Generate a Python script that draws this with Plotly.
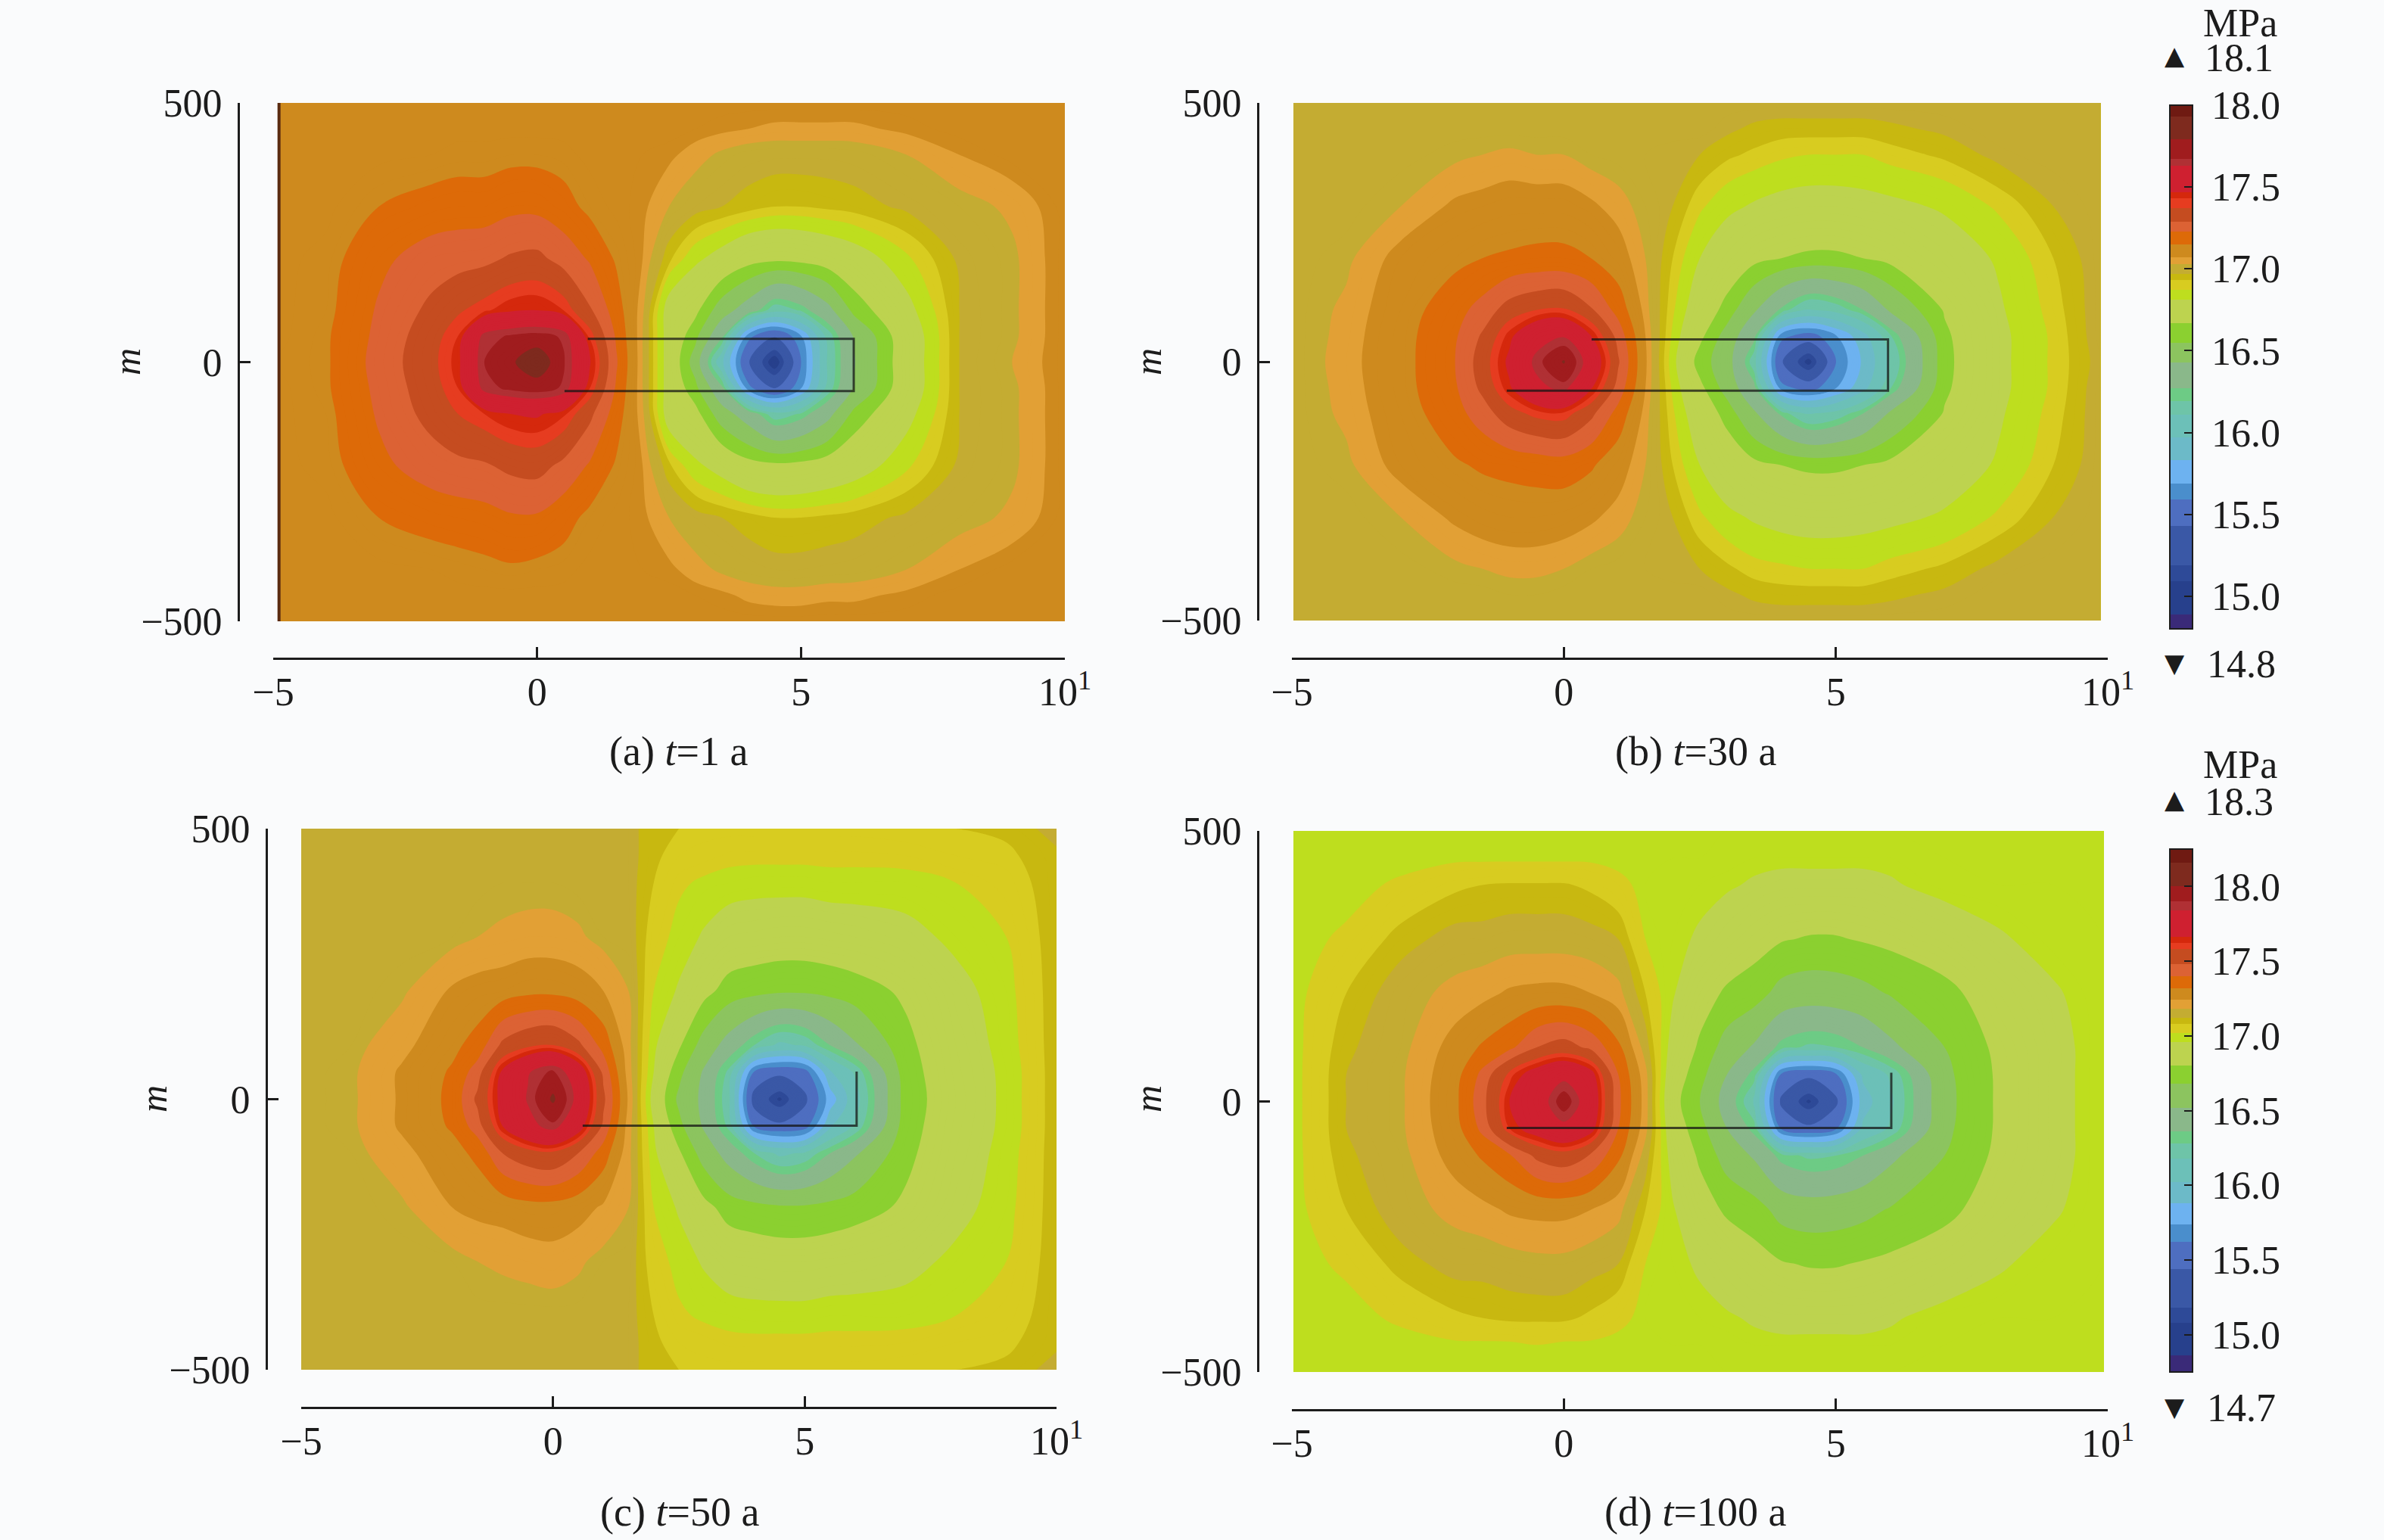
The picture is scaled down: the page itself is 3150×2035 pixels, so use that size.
import plotly.graph_objects as go

W, H = 3150, 2035
FONT = "Liberation Serif"
INK = "#1c1c1c"
BG = "#fafbfc"

# shared row positions (m), top to bottom
Y = [500, 450, 400, 300, 200, 100, 50, 0, -50, -100, -200, -300, -400, -450, -500]
# column positions per panel (km-like axis units)
X_A = [-4.91, -4, -3, -2, -1.5, -1, -0.5, 0, 0.5, 1, 1.5, 2, 2.5, 3, 3.5, 4, 4.5, 5, 5.5, 6, 7, 8, 9, 10]
X_B = [-4.97, -4, -3, -2, -1.5, -1, -0.5, 0, 0.5, 1, 1.5, 2, 2.5, 3, 3.5, 4, 4.5, 5, 5.5, 6, 7, 8, 9, 9.87]
X_C = [-5, -4, -3, -2, -1.5, -1, -0.5, 0, 0.5, 1, 1.5, 2, 2.5, 3, 3.5, 4, 4.5, 5, 5.5, 6, 7, 8, 9, 10]
X_D = [-4.97, -4, -3, -2, -1.5, -1, -0.5, 0, 0.5, 1, 1.5, 2, 2.5, 3, 3.5, 4, 4.5, 5, 5.5, 6, 7, 8, 9, 9.93]

Z_A = [
 [17.1,17.1,17.1,17.1,17.1,17.1,17.1,17.1,17.1,17.1,17.1,17.1,17.1,17.1,17.1,17.1,17.1,17.1,17.1,17.1,17.1,17.1,17.1,17.1],
 [17.1,17.1,17.1,17.1,17.1,17.1,17.1,17.1,17.1,17.1,17.1,17.1,17.1,17.09,17.08,17.07,17.06,17.06,17.06,17.06,17.08,17.1,17.1,17.1],
 [17.1,17.1,17.1,17.11,17.12,17.12,17.13,17.13,17.12,17.1,17.09,17.09,17.08,17.05,17.02,17.0,16.995,16.995,16.995,17.0,17.03,17.07,17.1,17.1],
 [17.1,17.1,17.15,17.18,17.19,17.19,17.21,17.21,17.18,17.13,17.1,17.08,17.03,16.99,16.97,16.95,16.93,16.93,16.94,16.95,16.98,17.01,17.04,17.1],
 [17.1,17.12,17.21,17.27,17.28,17.29,17.32,17.33,17.28,17.22,17.14,17.07,16.94,16.85,16.79,16.72,16.7,16.71,16.74,16.78,16.88,16.98,17.02,17.1],
 [17.1,17.13,17.24,17.33,17.38,17.42,17.46,17.47,17.43,17.32,17.19,17.04,16.78,16.7,16.5,16.35,16.15,16.22,16.38,16.6,16.8,16.97,17.02,17.1],
 [17.1,17.14,17.25,17.36,17.43,17.66,17.7,17.72,17.68,17.42,17.22,17.03,16.78,16.6,16.3,15.65,15.45,15.7,16.15,16.44,16.76,16.97,17.02,17.1],
 [17.11,17.14,17.26,17.37,17.45,17.69,17.77,17.88,17.7,17.48,17.24,17.03,16.78,16.51,16.0,15.45,15.0,15.6,16.12,16.42,16.76,16.97,17.03,17.1],
 [17.1,17.14,17.25,17.36,17.43,17.66,17.71,17.73,17.68,17.43,17.22,17.03,16.78,16.6,16.3,15.65,15.42,15.7,16.15,16.44,16.76,16.97,17.02,17.1],
 [17.1,17.13,17.24,17.34,17.39,17.43,17.47,17.48,17.44,17.33,17.19,17.04,16.78,16.71,16.5,16.35,16.15,16.22,16.38,16.6,16.8,16.97,17.02,17.1],
 [17.1,17.12,17.21,17.27,17.29,17.3,17.33,17.34,17.29,17.22,17.14,17.07,16.94,16.85,16.79,16.72,16.7,16.71,16.74,16.78,16.88,16.98,17.02,17.1],
 [17.1,17.1,17.15,17.18,17.19,17.2,17.22,17.22,17.18,17.13,17.1,17.08,17.03,16.99,16.97,16.95,16.93,16.93,16.94,16.95,16.98,17.01,17.04,17.1],
 [17.1,17.1,17.1,17.11,17.12,17.13,17.14,17.13,17.12,17.1,17.09,17.09,17.08,17.05,17.02,17.0,16.99,16.99,16.995,17.0,17.03,17.07,17.1,17.1],
 [17.1,17.1,17.1,17.1,17.1,17.1,17.1,17.1,17.1,17.1,17.1,17.1,17.1,17.09,17.08,17.06,17.05,17.05,17.06,17.06,17.08,17.1,17.1,17.1],
 [17.1,17.1,17.1,17.1,17.1,17.1,17.1,17.1,17.1,17.1,17.1,17.1,17.1,17.1,17.1,17.1,17.1,17.1,17.1,17.1,17.1,17.1,17.1,17.1],
]

Z_B = [
 [17.0,17.0,17.0,17.0,17.0,17.0,17.0,17.0,17.0,17.0,17.0,17.0,17.0,17.0,17.0,17.0,17.0,17.0,17.0,17.0,17.0,17.0,17.0,17.0],
 [17.0,17.0,17.0,17.0,17.0,17.0,17.0,17.0,17.0,17.0,17.0,17.0,17.0,16.98,16.96,16.95,16.95,16.95,16.95,16.96,16.98,17.0,17.0,17.0],
 [17.0,17.0,17.0,17.02,17.03,17.04,17.03,17.03,17.01,17.0,16.99,16.98,16.97,16.94,16.92,16.9,16.89,16.89,16.89,16.91,16.94,16.985,17.0,17.0],
 [17.0,17.0,17.03,17.08,17.09,17.1,17.1,17.1,17.08,17.05,17.01,16.97,16.9,16.85,16.82,16.8,16.79,16.79,16.8,16.81,16.84,16.9,16.97,17.0],
 [17.0,17.02,17.09,17.13,17.15,17.16,17.17,17.17,17.15,17.1,17.03,16.93,16.83,16.76,16.7,16.67,16.65,16.65,16.67,16.7,16.78,16.84,16.93,17.0],
 [17.0,17.04,17.11,17.2,17.26,17.35,17.39,17.4,17.32,17.2,17.05,16.9,16.76,16.63,16.45,16.25,16.1,16.15,16.27,16.45,16.68,16.82,16.91,17.0],
 [17.0,17.045,17.12,17.22,17.32,17.45,17.58,17.62,17.47,17.28,17.07,16.88,16.7,16.52,16.3,15.65,15.55,15.7,15.92,16.2,16.65,16.81,16.9,17.0],
 [17.0,17.05,17.12,17.23,17.35,17.49,17.66,17.8,17.56,17.32,17.08,16.86,16.62,16.5,16.15,15.45,15.05,15.6,15.85,16.12,16.64,16.81,16.9,16.99],
 [17.0,17.045,17.12,17.22,17.33,17.46,17.6,17.66,17.48,17.28,17.07,16.88,16.7,16.52,16.3,15.65,15.55,15.7,15.92,16.2,16.65,16.81,16.9,17.0],
 [17.0,17.04,17.11,17.2,17.27,17.36,17.41,17.42,17.33,17.2,17.05,16.9,16.76,16.63,16.45,16.25,16.1,16.15,16.27,16.45,16.68,16.82,16.91,17.0],
 [17.0,17.02,17.09,17.14,17.16,17.17,17.18,17.19,17.16,17.1,17.03,16.93,16.83,16.76,16.7,16.67,16.65,16.65,16.67,16.7,16.78,16.84,16.93,17.0],
 [17.0,17.0,17.03,17.08,17.1,17.11,17.11,17.1,17.08,17.05,17.01,16.97,16.9,16.85,16.82,16.8,16.79,16.79,16.8,16.81,16.84,16.9,16.97,17.0],
 [17.0,17.0,17.0,17.02,17.03,17.04,17.04,17.03,17.01,17.0,16.99,16.98,16.97,16.94,16.91,16.9,16.89,16.89,16.89,16.91,16.94,16.985,17.0,17.0],
 [17.0,17.0,17.0,17.0,17.0,17.01,17.01,17.0,17.0,17.0,17.0,17.0,17.0,16.98,16.96,16.95,16.95,16.95,16.95,16.96,16.98,17.0,17.0,17.0],
 [17.0,17.0,17.0,17.0,17.0,17.0,17.0,17.0,17.0,17.0,17.0,17.0,17.0,17.0,17.0,17.0,17.0,17.0,17.0,17.0,17.0,17.0,17.0,17.0],
]

Z_C = [
 [17.15,17.15,17.15,17.15,17.15,17.15,17.15,17.15,17.15,17.15,17.14,17.09,17.08,17.07,17.07,17.07,17.07,17.07,17.07,17.07,17.08,17.08,17.09,17.14],
 [17.15,17.15,17.15,17.15,17.15,17.15,17.15,17.15,17.15,17.15,17.14,17.09,17.06,17.05,17.035,17.035,17.035,17.035,17.035,17.035,17.04,17.06,17.07,17.11],
 [17.15,17.15,17.15,17.15,17.15,17.16,17.16,17.16,17.15,17.15,17.14,17.08,17.03,17.01,17.0,16.99,16.99,16.99,17.0,17.0,17.0,17.02,17.05,17.11],
 [17.15,17.15,17.15,17.16,17.18,17.19,17.2,17.2,17.19,17.16,17.15,17.05,17.0,16.95,16.9,16.89,16.88,16.88,16.89,16.9,16.93,16.98,17.02,17.11],
 [17.15,17.15,17.17,17.25,17.27,17.28,17.3,17.3,17.28,17.24,17.18,17.02,16.95,16.84,16.75,16.72,16.7,16.7,16.72,16.75,16.82,16.93,17.0,17.11],
 [17.15,17.16,17.22,17.3,17.35,17.5,17.56,17.58,17.5,17.37,17.2,16.98,16.82,16.62,16.45,16.28,16.15,16.2,16.36,16.5,16.77,16.9,16.99,17.11],
 [17.15,17.17,17.25,17.33,17.44,17.68,17.83,17.92,17.75,17.46,17.21,16.96,16.72,16.5,16.25,15.6,15.5,15.55,16.0,16.2,16.75,16.89,16.98,17.11],
 [17.15,17.17,17.25,17.34,17.5,17.7,17.85,18.02,17.8,17.5,17.23,16.92,16.65,16.48,16.2,15.35,15.05,15.4,15.8,16.12,16.74,16.88,16.98,17.11],
 [17.15,17.17,17.25,17.33,17.44,17.66,17.8,17.88,17.72,17.46,17.21,16.96,16.72,16.5,16.25,15.6,15.5,15.55,16.0,16.2,16.75,16.89,16.98,17.11],
 [17.15,17.16,17.22,17.29,17.34,17.48,17.54,17.56,17.48,17.36,17.2,16.98,16.82,16.62,16.45,16.28,16.15,16.2,16.36,16.5,16.77,16.9,16.99,17.11],
 [17.15,17.15,17.17,17.24,17.26,17.27,17.29,17.29,17.27,17.23,17.18,17.02,16.95,16.84,16.75,16.72,16.7,16.7,16.72,16.75,16.82,16.93,17.0,17.11],
 [17.15,17.15,17.15,17.16,17.18,17.19,17.2,17.21,17.19,17.16,17.15,17.05,17.0,16.95,16.9,16.89,16.88,16.88,16.89,16.9,16.93,16.98,17.02,17.11],
 [17.15,17.15,17.15,17.15,17.15,17.15,17.15,17.15,17.15,17.15,17.14,17.08,17.03,17.01,17.0,16.99,16.99,16.99,17.0,17.0,17.0,17.02,17.05,17.11],
 [17.15,17.15,17.15,17.15,17.15,17.15,17.15,17.15,17.15,17.15,17.14,17.09,17.06,17.05,17.035,17.035,17.035,17.035,17.035,17.035,17.04,17.06,17.07,17.11],
 [17.15,17.15,17.15,17.15,17.15,17.15,17.15,17.15,17.15,17.15,17.14,17.09,17.08,17.07,17.07,17.07,17.07,17.07,17.07,17.07,17.08,17.08,17.09,17.14],
]

Z_D = [
 [17.0,17.0,17.0,17.0,17.0,17.0,17.0,17.0,17.0,17.0,17.0,17.0,17.0,17.0,17.0,17.0,17.0,17.0,17.0,17.0,17.0,17.0,17.0,17.0],
 [17.0,17.0,17.0,17.01,17.01,17.01,17.01,17.01,17.01,17.0,17.0,17.0,17.0,16.99,16.98,16.98,16.98,16.98,16.98,16.98,17.0,17.0,17.0,17.0],
 [17.0,17.0,17.03,17.07,17.08,17.085,17.085,17.085,17.07,17.04,17.0,16.99,16.98,16.97,16.95,16.93,16.93,16.93,16.93,16.95,16.99,17.0,17.0,17.0],
 [17.0,17.03,17.1,17.14,17.14,17.15,17.15,17.15,17.14,17.12,17.02,16.98,16.95,16.9,16.85,16.81,16.79,16.79,16.81,16.83,16.89,16.95,16.99,17.0],
 [17.0,17.08,17.15,17.2,17.22,17.25,17.26,17.26,17.24,17.2,17.08,16.97,16.86,16.78,16.74,16.63,16.6,16.61,16.64,16.69,16.76,16.88,16.95,17.0],
 [17.0,17.11,17.16,17.27,17.33,17.38,17.48,17.52,17.46,17.34,17.15,16.92,16.78,16.62,16.5,16.32,16.26,16.28,16.36,16.48,16.68,16.83,16.93,17.0],
 [17.0,17.12,17.17,17.29,17.42,17.6,17.72,17.8,17.7,17.4,17.2,16.88,16.73,16.52,16.32,15.6,15.5,15.6,16.05,16.2,16.65,16.82,16.93,17.0],
 [17.0,17.12,17.17,17.3,17.45,17.66,17.75,17.96,17.75,17.42,17.21,16.85,16.68,16.45,16.17,15.4,15.05,15.4,15.95,16.15,16.64,16.82,16.93,17.0],
 [17.0,17.12,17.17,17.29,17.42,17.62,17.72,17.8,17.7,17.4,17.2,16.88,16.73,16.52,16.32,15.6,15.5,15.6,16.05,16.2,16.65,16.82,16.93,17.0],
 [17.0,17.11,17.16,17.27,17.33,17.39,17.5,17.54,17.47,17.34,17.15,16.92,16.78,16.62,16.5,16.32,16.26,16.28,16.36,16.48,16.68,16.83,16.93,17.0],
 [17.0,17.08,17.15,17.2,17.22,17.25,17.26,17.26,17.24,17.2,17.08,16.97,16.86,16.78,16.74,16.63,16.6,16.61,16.64,16.69,16.76,16.88,16.95,17.0],
 [17.0,17.03,17.1,17.14,17.14,17.15,17.16,17.16,17.14,17.12,17.02,16.98,16.95,16.9,16.85,16.81,16.79,16.79,16.81,16.83,16.89,16.95,16.99,17.0],
 [17.0,17.0,17.03,17.07,17.08,17.09,17.09,17.09,17.07,17.04,17.0,16.99,16.98,16.97,16.95,16.93,16.93,16.93,16.93,16.95,16.99,17.0,17.0,17.0],
 [17.0,17.0,17.0,17.01,17.01,17.01,17.02,17.01,17.01,17.0,17.0,17.0,17.0,16.99,16.98,16.98,16.98,16.98,16.98,16.98,17.0,17.0,17.0,17.0],
 [17.0,17.0,17.0,17.0,17.0,17.0,17.0,17.0,17.0,17.0,17.0,17.0,17.0,17.0,17.0,17.0,17.0,17.0,17.0,17.0,17.0,17.0,17.0,17.0],
]

# colour bands, listed by lower bound on the 14.8-18.0 colour bar
BAND_LOWER = [14.8, 14.9, 15.1, 15.2, 15.43, 15.6, 15.7, 15.83, 15.97, 16.1, 16.2, 16.27, 16.42, 16.56,
              16.67, 16.82, 16.88, 16.93, 16.97, 17.03, 17.07, 17.15, 17.23, 17.3, 17.38, 17.42, 17.46,
              17.62, 17.68, 17.78, 17.92]
BAND_COLOR = ["#3a2a78", "#27408c", "#2e4a98", "#3a58a6", "#4e6ec0", "#4a8ecc", "#6db2f0", "#6cbac8", "#6cc0b8",
              "#6ec4a8", "#6dcb85", "#8ab88a", "#8cc45f", "#8bd030", "#bdd34f", "#bede1e", "#d8cc20", "#c8b810",
              "#c4ac32", "#e2a035", "#ce8a1e", "#dd6a08", "#dc6234", "#c54c20", "#e63c20", "#d5280c", "#cf2030",
              "#b03034", "#a01c1e", "#7e2a1e", "#6f1a12"]
BAR_MIN = 14.8
BAR_MAX = 18.0

# reservoir outline, drawn where it shows in each panel
OUT_A_X, OUT_A_Y = [0.96, 6, 6, 0.52], [45, 45, -56, -56]
OUT_B_X, OUT_B_Y = [0.51, 5.96, 5.96, -1.05], [43, 43, -56, -56]
OUT_C_X, OUT_C_Y = [6.03, 6.03, 0.59], [51, -49, -49]
OUT_D_X, OUT_D_Y = [6.02, 6.02, -1.05], [53, -49, -49]
EDGE_A_X, EDGE_A_Y = [-4.89, -4.89], [500, -500]

X_TICKS = [-5, 0, 5, 10]
X_LABELS = ["−5", "0", "5", "10<sup>1</sup>"]
Y_TICKS = [-500, 0, 500]
Y_LABELS = ["−500", "0", "500"]
BAR_LABELS = [" 18.0", " 17.5", " 17.0", " 16.5", " 16.0", " 15.5", " 15.0"]
BAR_TICKS = [18.0, 17.5, 17.0, 16.5, 16.0, 15.5, 15.0]

CAPTIONS = ["(a) <i>t</i>=1 a", "(b) <i>t</i>=30 a", "(c) <i>t</i>=50 a", "(d) <i>t</i>=100 a"]

# pixel geometry: x(-5), x(10), y(500), y(-500), y-axis x, x-axis y
GEO = [(361, 1407, 136, 821, 315, 870),
       (1707, 2785, 136, 820, 1662, 870),
       (398, 1396, 1095, 1810, 352, 1860),
       (1707, 2785, 1098, 1813, 1662, 1863)]

stops = []
for i, (v, c) in enumerate(zip(BAND_LOWER, BAND_COLOR)):
    lo = (v - BAR_MIN) / (BAR_MAX - BAR_MIN)
    hi = 1.0 if i == len(BAND_LOWER) - 1 else (BAND_LOWER[i + 1] - BAR_MIN) / (BAR_MAX - BAR_MIN)
    stops += [[lo, c], [hi, c]]

fig = go.Figure()
panels = [(X_A, Z_A, "coloraxis", 14.8, 18.0), (X_B, Z_B, "coloraxis", 14.8, 18.0),
          (X_C, Z_C, "coloraxis2", 14.75, 18.25), (X_D, Z_D, "coloraxis2", 14.75, 18.25)]
outlines = [(OUT_A_X, OUT_A_Y), (OUT_B_X, OUT_B_Y), (OUT_C_X, OUT_C_Y), (OUT_D_X, OUT_D_Y)]

CS = 0.02
for i, (xs, zs, ca, zmin, zmax) in enumerate(panels):
    n = "" if i == 0 else str(i + 1)
    fig.add_trace(go.Contour(
        x=xs, y=Y, z=zs, coloraxis=ca, xaxis="x" + n, yaxis="y" + n,
        line=dict(width=0), hoverinfo="skip",
        contours=dict(coloring="fill", showlines=False, start=zmin + CS / 2, end=zmax - CS / 2 + 0.001, size=CS),
    ))
    ox, oy = outlines[i]
    fig.add_trace(go.Scatter(x=ox, y=oy, mode="lines", xaxis="x" + n, yaxis="y" + n, showlegend=False,
                             line=dict(color="#141414", width=3), opacity=0.75, hoverinfo="skip"))
fig.add_trace(go.Scatter(x=EDGE_A_X, y=EDGE_A_Y, mode="lines", showlegend=False, hoverinfo="skip",
                         line=dict(color="#5a2a10", width=4)))

layout = dict(width=W, height=H, margin=dict(l=0, r=0, t=0, b=0, autoexpand=False), paper_bgcolor=BG, plot_bgcolor=BG,
              showlegend=False, font=dict(family=FONT, color=INK, size=50))
for i, (x0, x1, yt, yb, ax, ay) in enumerate(GEO):
    n = "" if i == 0 else str(i + 1)
    layout["xaxis" + n] = dict(domain=[x0 / W, x1 / W], range=[-5, 10], anchor="free", position=1 - ay / H,
                               tickvals=X_TICKS, ticktext=X_LABELS, ticks="inside", ticklen=14, tickwidth=3,
                               showline=True, linewidth=3, linecolor=INK, tickcolor=INK, showgrid=False,
                               zeroline=False, tickfont=dict(family=FONT, size=52, color=INK),
                               ticklabelstandoff=-2, tickangle=0, automargin=False)
    layout["yaxis" + n] = dict(domain=[1 - yb / H, 1 - yt / H], range=[-500, 500], anchor="free", position=ax / W,
                               tickvals=Y_TICKS, ticktext=Y_LABELS, ticks="inside", ticklen=14, tickwidth=3,
                               showline=True, linewidth=3, linecolor=INK, tickcolor=INK, showgrid=False,
                               zeroline=False, tickfont=dict(family=FONT, size=52, color=INK),
                               ticklabelstandoff=10, automargin=False)

def bar(cmin, cmax, top, length):
    return dict(cmin=cmin, cmax=cmax, colorscale=stops,
                colorbar=dict(x=2867 / W, xanchor="left", y=1 - top / H, yanchor="top", thickness=30,
                              thicknessmode="pixels", len=length, lenmode="pixels", xpad=0, ypad=0,
                              outlinewidth=2, outlinecolor=INK, ticks="inside", ticklen=12, tickwidth=2,
                              tickcolor=INK, tickvals=BAR_TICKS, ticktext=BAR_LABELS,
                              tickfont=dict(family=FONT, size=52, color=INK)))

layout["coloraxis"] = bar(14.8, 18.0, 139, 692)
layout["coloraxis2"] = bar(14.75, 18.25, 1122, 691)

def note(text, x, y, size=50, angle=0, anchor="center", family=FONT):
    return dict(text=text, x=x / W, y=1 - y / H, xref="paper", yref="paper", showarrow=False, xanchor=anchor,
                yanchor="middle", textangle=angle, font=dict(family=family, size=size, color=INK))

ann = [note(CAPTIONS[0], 896, 993, 54), note(CAPTIONS[1], 2240, 993, 54),
       note(CAPTIONS[2], 898, 1998, 54), note(CAPTIONS[3], 2240, 1998, 54)]
for x, y in [(168, 478), (1517, 478), (203, 1452), (1517, 1452)]:
    ann.append(note("<i>m</i>", x, y, 50, -90))
for top_y, lab_y, hi, lo, lo_y in [(30, 76, "18.1", "14.8", 877), (1010, 1059, "18.3", "14.7", 1860)]:
    ann.append(note("MPa", 2909, top_y, 52, anchor="left"))
    ann.append(note(hi, 2911, lab_y, 52, anchor="left"))
    ann.append(note(lo, 2914, lo_y, 52, anchor="left"))
    ann.append(note("▲", 2873, lab_y - 3, 34, family="DejaVu Sans"))
    ann.append(note("▼", 2873, lo_y - 1, 34, family="DejaVu Sans"))
layout["annotations"] = ann

fig.update_layout(**layout)
fig.write_html("out.html", config={"displayModeBar": False},
               post_script="document.body.style.margin='0';document.body.style.background='#fafbfc';")
